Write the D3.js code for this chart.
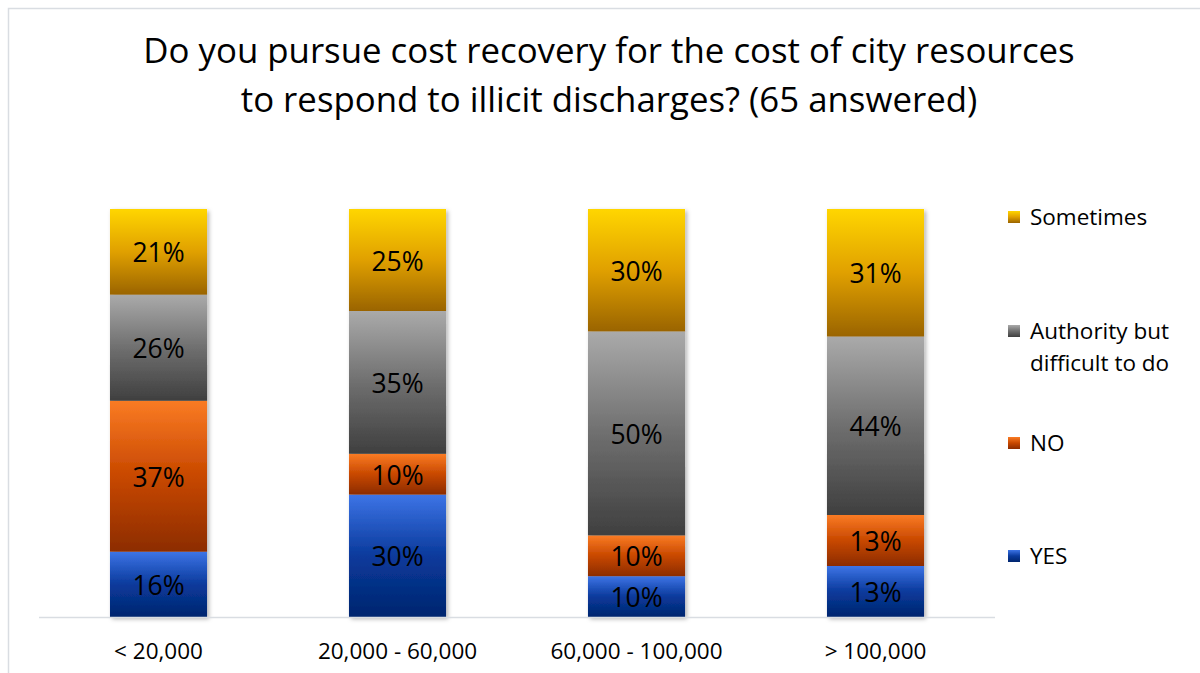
<!DOCTYPE html>
<html><head><meta charset="utf-8">
<script src="https://cdnjs.cloudflare.com/ajax/libs/d3/7.8.5/d3.min.js"></script>
<style>body{margin:0;background:#fff;} svg{display:block;}</style>
</head><body>
<svg id="c" width="1200" height="673"></svg>
<script>
const categories = ["< 20,000", "20,000 - 60,000", "60,000 - 100,000", "> 100,000"];
const seriesNames = ["YES", "NO", "Authority but difficult to do", "Sometimes"];
const yesVals = [16, 30, 10, 12.5];
const noVals = [37, 10, 10, 12.5];
const authVals = [26, 35, 50, 43.75];
const sometimesVals = [21, 25, 30, 31.25];
const titleLines = ["Do you pursue cost recovery for the cost of city resources", "to respond to illicit discharges? (65 answered)"];
const legendLines = {"Sometimes":["Sometimes"], "Authority but difficult to do":["Authority but","difficult to do"], "NO":["NO"], "YES":["YES"]};

const gradStops = {
  "YES": ["#3d74e6", "#0a3a9c", "#00256e"],
  "NO": ["#fa7b24", "#c84800", "#8c2c00"],
  "Authority but difficult to do": ["#aaaaaa", "#6f6f6f", "#3f3f3f"],
  "Sometimes": ["#ffd600", "#e0a000", "#9a6400"]
};

const table = categories.map((c,i)=>({cat:c, "YES":yesVals[i], "NO":noVals[i], "Authority but difficult to do":authVals[i], "Sometimes":sometimesVals[i]}));
const stacked = d3.stack().keys(seriesNames).offset(d3.stackOffsetExpand)(table);

const svg = d3.select("#c");
const font = "'Open Sans', 'Noto Sans', sans-serif";
const defs = svg.append("defs");
seriesNames.forEach((s,i)=>{
  const g = defs.append("linearGradient").attr("id","g"+i).attr("x1",0).attr("y1",0).attr("x2",0).attr("y2",1);
  gradStops[s].forEach((col,j)=>g.append("stop").attr("offset", j/2).attr("stop-color", col));
});
const f = defs.append("filter").attr("id","sh").attr("x","-10%").attr("y","-10%").attr("width","130%").attr("height","130%");
f.append("feDropShadow").attr("dx",2).attr("dy",2).attr("stdDeviation",2).attr("flood-color","#000").attr("flood-opacity",0.3);

// chart border
svg.append("rect").attr("x",8.5).attr("y",8.5).attr("width",1200).attr("height",700)
  .attr("fill","none").attr("stroke","#d9dde2").attr("stroke-width",1.5);

const x = d3.scaleBand().domain(categories).range([39, 995]).paddingInner(0.594).paddingOuter(0.297);
const y = d3.scaleLinear().domain([0,1]).range([617, 209]);

// title
const t = svg.append("text").attr("text-anchor","middle").attr("font-family",font).attr("font-size",34.8).attr("fill","#000");
titleLines.forEach((l,i)=>t.append("tspan").attr("x",609).attr("y",63+i*49).text(l));

// bars
const barG = svg.append("g").attr("filter","url(#sh)");
stacked.forEach((layer,i)=>{
  barG.selectAll(null).data(layer).enter().append("rect")
    .attr("x", d=>x(d.data.cat)).attr("width", x.bandwidth())
    .attr("y", d=>y(d[1])).attr("height", d=>y(d[0])-y(d[1]))
    .attr("fill","url(#g"+i+")");
});
stacked.forEach((layer,i)=>{
  svg.selectAll(null).data(layer).enter().append("text")
    .attr("x", d=>x(d.data.cat)+x.bandwidth()/2).attr("y", d=>(y(d[0])+y(d[1]))/2)
    .attr("dy","0.4em").attr("text-anchor","middle").attr("font-family",font).attr("font-size",26.5).attr("fill","#000")
    .text(d=>Math.round(d.data[layer.key])+"%");
});

// axis
const ax = svg.append("g").attr("transform","translate(0,617)").call(d3.axisBottom(x).tickSize(0).tickPadding(26));
ax.select(".domain").attr("stroke","#d9dde2").attr("stroke-width",1.5).attr("d","M39,0.5H995");
ax.selectAll("text").attr("font-family",font).attr("font-size",22.5).attr("fill","#000");

// legend
const legendY = {"Sometimes":217, "Authority but difficult to do":331, "NO":443, "YES":556};
const lg = svg.append("g");
seriesNames.slice().reverse().forEach(s=>{
  const i = seriesNames.indexOf(s);
  const yy = legendY[s];
  lg.append("rect").attr("x",1008).attr("y",yy-6).attr("width",12).attr("height",12).attr("fill","url(#g"+i+")");
  const tx = lg.append("text").attr("font-family",font).attr("font-size",22.5).attr("fill","#000");
  legendLines[s].forEach((l,j)=>tx.append("tspan").attr("x",1030).attr("y",yy+j*32).attr("dy","0.36em").text(l));
});
</script>
</body></html>
